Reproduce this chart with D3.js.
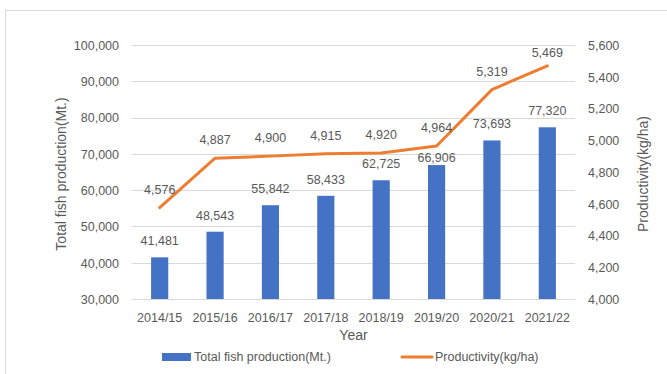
<!DOCTYPE html>
<html>
<head>
<meta charset="utf-8">
<script src="https://cdn.jsdelivr.net/npm/d3@7"></script>
<style>
  html, body { margin: 0; padding: 0; background: #fff; }
  svg { display: block; font-family: "Liberation Sans", Arial, sans-serif; }
</style>
</head>
<body>
<svg id="chart" width="667" height="374"></svg>
<script>
// Fish production and pond productivity by fiscal year
const years = ["2014/15", "2015/16", "2016/17", "2017/18", "2018/19", "2019/20", "2020/21", "2021/22"];
const production = [41481, 48543, 55842, 58433, 62725, 66906, 73693, 77320];
const productivity = [4576, 4887, 4900, 4915, 4920, 4964, 5319, 5469];
const leftTicks = [30000, 40000, 50000, 60000, 70000, 80000, 90000, 100000];
const rightTicks = [4000, 4200, 4400, 4600, 4800, 5000, 5200, 5400, 5600];

const svg = d3.select("#chart");
const W = 667, H = 374;
const plot = { left: 132, right: 575, top: 45, bottom: 299 };
const textColor = "#595959";
const fmt = d3.format(",");

// Frame around the chart area
svg.append("rect")
  .attr("x", 5.5).attr("y", 10.5)
  .attr("width", W + 10).attr("height", H + 10)
  .attr("fill", "none").attr("stroke", "#d9d9d9").attr("stroke-width", 1);

const x = d3.scaleBand().domain(years).range([plot.left, plot.right]).paddingInner(0.69).paddingOuter(0.345);
const yL = d3.scaleLinear().domain([30000, 100000]).range([plot.bottom, plot.top]);
const yR = d3.scaleLinear().domain([4000, 5600]).range([plot.bottom, plot.top]);
const cx = i => x(years[i]) + x.bandwidth() / 2;

// Gridlines follow the left axis ticks
svg.append("g").selectAll("line").data(leftTicks).join("line")
  .attr("x1", plot.left).attr("x2", plot.right)
  .attr("y1", d => Math.round(yL(d)) + 0.5).attr("y2", d => Math.round(yL(d)) + 0.5)
  .attr("stroke", "#d9d9d9").attr("stroke-width", 1);

// Left axis
const gL = svg.append("g").attr("transform", `translate(${plot.left},0)`)
  .call(d3.axisLeft(yL).tickValues(leftTicks).tickFormat(fmt).tickSize(0).tickPadding(13));
gL.select(".domain").remove();
gL.selectAll("text").attr("fill", textColor).style("font-size", "12.5px").attr("dy", "0.35em");

// Right axis
const gR = svg.append("g").attr("transform", `translate(${plot.right},0)`)
  .call(d3.axisRight(yR).tickValues(rightTicks).tickFormat(fmt).tickSize(0).tickPadding(13));
gR.select(".domain").remove();
gR.selectAll("text").attr("fill", textColor).style("font-size", "12.5px").attr("dy", "0.35em");

// Bottom axis
const gB = svg.append("g").attr("transform", `translate(0,${plot.bottom})`)
  .call(d3.axisBottom(x).tickSize(0).tickPadding(14));
gB.select(".domain").attr("stroke", "#d9d9d9");
gB.selectAll("text").attr("fill", textColor).style("font-size", "12.5px");

// Bars
svg.append("g").selectAll("rect").data(production).join("rect")
  .attr("x", (d, i) => x(years[i]))
  .attr("y", d => yL(d))
  .attr("width", x.bandwidth())
  .attr("height", d => plot.bottom - yL(d))
  .attr("fill", "#4472c4");

// Bar value labels: sit above the bar, but drop closer to the bar
// when the productivity line would run through the label
function barLabelY(d, i) {
  const top = yL(d);
  const base = top - 12;
  const lineY = yR(productivity[i]);
  if (lineY > base - 14 && lineY < base + 4) return top - 3;
  return base;
}
svg.append("g").selectAll("text").data(production).join("text")
  .attr("x", (d, i) => cx(i))
  .attr("y", barLabelY)
  .attr("text-anchor", "middle")
  .attr("fill", textColor).style("font-size", "12.5px")
  .text(d => fmt(d));

// Productivity line
const line = d3.line()
  .x((d, i) => cx(i))
  .y(d => yR(d));
svg.append("path").datum(productivity)
  .attr("d", line)
  .attr("fill", "none").attr("stroke", "#ed7d31").attr("stroke-width", 3)
  .attr("stroke-linejoin", "round").attr("stroke-linecap", "round");

// Line value labels, kept inside the plot area
svg.append("g").selectAll("text").data(productivity).join("text")
  .attr("x", (d, i) => cx(i))
  .attr("y", d => Math.max(yR(d) - 14, plot.top + 12))
  .attr("text-anchor", "middle")
  .attr("fill", textColor).style("font-size", "12.5px")
  .text(d => fmt(d));

// Axis titles
svg.append("text")
  .attr("transform", `translate(66,${(plot.top + plot.bottom) / 2 + 2}) rotate(-90)`)
  .attr("text-anchor", "middle").attr("fill", textColor).style("font-size", "14px")
  .text("Total fish production(Mt.)");
svg.append("text")
  .attr("transform", `translate(648,${(plot.top + plot.bottom) / 2 + 2}) rotate(-90)`)
  .attr("text-anchor", "middle").attr("fill", textColor).style("font-size", "14px")
  .text("Productivity(kg/ha)");
svg.append("text")
  .attr("x", (plot.left + plot.right) / 2).attr("y", 340)
  .attr("text-anchor", "middle").attr("fill", textColor).style("font-size", "14px")
  .text("Year");

// Legend
const legend = svg.append("g");
legend.append("rect").attr("x", 162).attr("y", 353).attr("width", 29).attr("height", 8).attr("fill", "#4472c4");
legend.append("text").attr("x", 194).attr("y", 357).attr("dy", "0.35em")
  .attr("fill", textColor).style("font-size", "12.5px").text("Total fish production(Mt.)");
legend.append("line").attr("x1", 402).attr("x2", 432).attr("y1", 357).attr("y2", 357)
  .attr("stroke", "#ed7d31").attr("stroke-width", 3).attr("stroke-linecap", "round");
legend.append("text").attr("x", 435).attr("y", 357).attr("dy", "0.35em")
  .attr("fill", textColor).style("font-size", "12.5px").text("Productivity(kg/ha)");
</script>
</body>
</html>
